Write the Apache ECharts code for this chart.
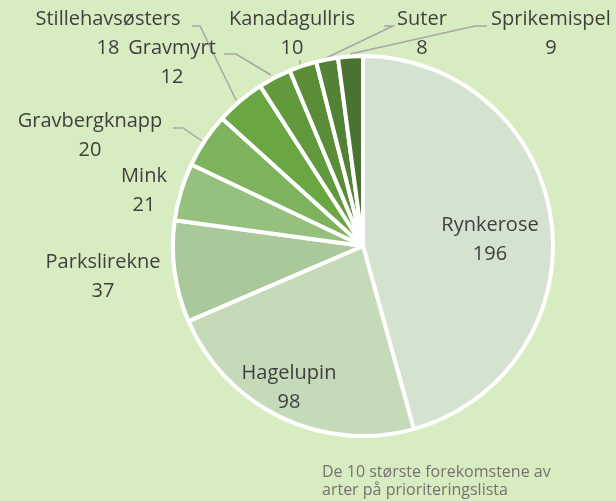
<!DOCTYPE html>
<html>
<head>
<meta charset="utf-8">
<script src="https://cdn.jsdelivr.net/npm/echarts@6/dist/echarts.min.js"></script>
<style>
  html, body { margin: 0; padding: 0; background: #d8ecc2; }
  #chart { width: 616px; height: 501px; }
</style>
</head>
<body>
<div id="chart"></div>
<script>
// Species, in clockwise order from twelve o'clock
const species = ['Rynkerose', 'Hagelupin', 'Parkslirekne', 'Mink', 'Gravbergknapp',
  'Stillehavsøsters', 'Gravmyrt', 'Kanadagullris', 'Suter', 'Sprikemispel'];
// Number of occurrences per species
const occurrences = [196, 98, 37, 21, 20, 18, 12, 10, 8, 9];
// Slice fills, light to dark green
const sliceColors = ['#d4e3cf', '#c4dab8', '#a9c99a', '#95c07e', '#7db35c',
  '#6aa642', '#63993d', '#5b8d39', '#538236', '#4a7331'];

// Label block centres (pixel) and leader lines (slice -> elbow -> label)
const labelCenters = [
  [490, 240], [289, 388], [103, 277], [144, 191], [90, 136],
  [108, 34], [172, 63], [292, 34], [422, 34], [551, 34]
];
const leaderLines = [
  null, null, null, null,
  [[202, 141], [183, 128], [173, 128]],
  [[236, 100], [200, 26], [192, 26]],
  [[271, 75], [236, 54], [224, 54]],
  [[300, 66], [300, 63], [300, 60]],
  [[326, 58], [393, 26], [384, 26]],
  [[350, 54], [475, 26], [487, 26]]
];

const chart = echarts.init(document.getElementById('chart'), null, { renderer: 'canvas' });

const data = species.map((name, i) => ({
  name: name,
  value: occurrences[i],
  itemStyle: { color: sliceColors[i] },
  labelLine: { show: !!leaderLines[i] }
}));

chart.setOption({
  backgroundColor: '#d8ecc2',
  animation: false,
  series: [{
    type: 'pie',
    center: [363, 246],
    radius: 190,
    startAngle: 90,
    clockwise: true,
    avoidLabelOverlap: false,
    data: data,
    itemStyle: { borderColor: '#ffffff', borderWidth: 4 },
    label: {
      show: true,
      position: 'outside',
      formatter: '{b}\n{c}',
      fontFamily: 'Open Sans',
      fontSize: 20,
      lineHeight: 29,
      color: '#3f3f3f',
      align: 'center'
    },
    labelLine: {
      show: true,
      lineStyle: { color: '#a6a6a6', width: 1.5 }
    },
    labelLayout: function (params) {
      const i = params.dataIndex;
      const c = labelCenters[i];
      const out = {
        x: c[0],
        y: c[1],
        align: 'center',
        verticalAlign: 'middle'
      };
      if (leaderLines[i]) out.labelLinePoints = leaderLines[i];
      return out;
    },
    emphasis: { disabled: true }
  }],
  graphic: [{
    type: 'text',
    left: 322,
    top: 463,
    style: {
      text: 'De 10 største forekomstene av\narter på prioriteringslista',
      fontFamily: 'Open Sans',
      fontSize: 16,
      lineHeight: 18,
      fill: '#767171'
    }
  }]
});
</script>
</body>
</html>
